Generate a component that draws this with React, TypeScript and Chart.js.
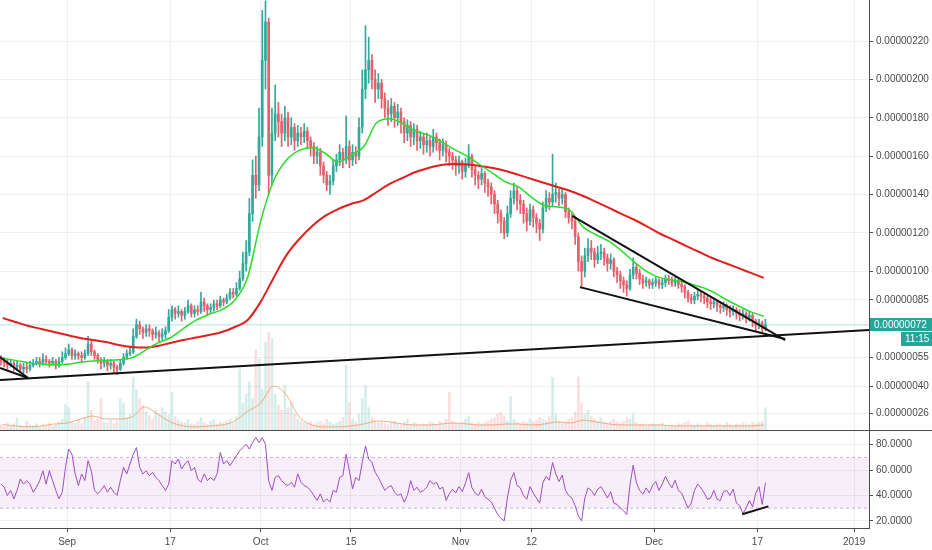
import React, { useEffect, useRef } from 'react';
import { Chart, registerables } from 'chart.js';

Chart.register(...registerables);

const FONT = "'Liberation Sans', Arial, sans-serif";

// x axis: days counted from 2018-09-01
const X_MIN = -10.4;
const X_MAX = 124.3;
const tickDays = [0, 16, 30, 44, 61, 72, 91, 107, 122];
const tickLabels = ['Sep', '17', 'Oct', '15', 'Nov', '12', 'Dec', '17', '2019'];

// 12h candles, prices in satoshi
const candleStartDay = -10.25;
const candleStepDays = 0.5;
const firstOpen = 54;

const closes = [
  53, 52, 51, 52, 50, 51, 49, 50, 49, 51,
  52, 53, 52, 54, 53, 52, 53, 51, 53, 55,
  57, 59, 56, 57, 56, 55, 57, 62, 58, 56,
  54, 52, 53, 51, 52, 50, 49, 52, 55, 57,
  58, 66, 72, 70, 68, 70, 69, 67, 68, 66,
  67, 69, 76, 80, 78, 79, 77, 79, 82, 78,
  80, 79, 84, 82, 80, 81, 83, 82, 85, 84,
  86, 89, 88, 91, 96, 104, 110, 130, 150, 145,
  170, 210, 230, 150, 172, 182, 178, 172, 180, 170,
  175, 168, 172, 170, 173, 168, 165, 160, 162, 155,
  150, 145, 147, 155, 158, 162, 158, 165, 158, 162,
  160, 175, 195, 205, 210, 200, 195, 198, 190, 185,
  182, 186, 180, 183, 178, 172, 176, 170, 174, 168,
  170, 166, 168, 165, 170, 167, 163, 166, 162, 160,
  158, 155, 157, 152, 156, 160, 153, 150, 148, 151,
  146, 144, 140, 135, 130, 126, 120, 130, 138, 142,
  137, 135, 130, 126, 132, 128, 125, 122, 133, 138,
  136, 140, 141, 138, 140, 131, 128, 126, 118, 105,
  100, 108, 112, 110, 106, 109, 110, 107, 104, 106,
  100, 98, 95, 93, 91, 98, 102, 99, 96, 94,
  95, 93, 94, 95, 93, 94, 96, 95, 94, 95,
  93, 92, 89, 86, 85, 87, 88, 87, 86, 84,
  83, 84, 82, 81, 82, 80, 79, 80, 78, 77,
  78, 76, 77, 74, 72, 73, 70, 72,
];

const highs = [
  56, 55, 54, 54, 53, 53, 52, 52, 52, 53,
  54, 55, 55, 57, 56, 54, 55, 54, 55, 58,
  60, 62, 60, 59, 58, 58, 59, 66, 64, 59,
  57, 55, 55, 54, 54, 53, 51, 54, 57, 59,
  61, 70, 75, 74, 71, 72, 72, 70, 71, 69,
  70, 71, 80, 82, 81, 82, 80, 81, 85, 83,
  82, 82, 89, 86, 83, 83, 85, 85, 87, 86,
  88, 91, 91, 94, 100, 110, 116, 138, 158, 160,
  185, 236, 241, 232, 185, 197, 188, 182, 186, 183,
  180, 177, 176, 175, 177, 175, 170, 167, 165, 164,
  157, 152, 150, 158, 161, 166, 164, 181, 168, 166,
  165, 180, 205, 228, 222, 213, 205, 203, 200, 193,
  189, 190, 188, 187, 185, 180, 179, 178, 177, 176,
  173, 172, 172, 170, 174, 172, 169, 169, 168, 164,
  162, 160, 160, 158, 159, 166, 161, 155, 152, 154,
  152, 148, 146, 142, 137, 132, 128, 134, 142, 146,
  144, 140, 137, 133, 135, 134, 130, 127, 136, 142,
  141, 161, 146, 143, 143, 141, 133, 130, 128, 120,
  108, 112, 117, 116, 112, 113, 114, 112, 109, 109,
  107, 102, 100, 97, 95, 101, 107, 104, 101, 98,
  97, 96, 96, 97, 96, 96, 98, 98, 97, 97,
  96, 95, 93, 90, 88, 89, 90, 89, 88, 87,
  86, 86, 85, 84, 84, 83, 82, 82, 81, 80,
  80, 79, 79, 78, 75, 75, 74, 75,
];

const lows = [
  51, 50, 49, 50, 48, 48, 47, 47, 47, 48,
  50, 51, 50, 51, 51, 50, 51, 49, 50, 52,
  54, 56, 54, 54, 54, 53, 54, 56, 56, 54,
  52, 49, 50, 48, 49, 47, 46, 48, 51, 54,
  56, 57, 65, 67, 65, 66, 66, 64, 65, 63,
  64, 65, 68, 74, 75, 76, 74, 75, 78, 76,
  76, 77, 78, 79, 77, 78, 79, 80, 81, 82,
  83, 85, 86, 87, 90, 95, 100, 108, 126, 138,
  142, 165, 195, 140, 145, 168, 170, 165, 168, 165,
  166, 163, 165, 166, 167, 164, 160, 156, 156, 150,
  146, 142, 140, 145, 152, 155, 154, 156, 154, 155,
  156, 158, 172, 190, 198, 195, 188, 190, 185, 180,
  176, 178, 175, 176, 172, 167, 168, 165, 166, 163,
  164, 161, 162, 160, 162, 163, 158, 160, 157, 155,
  153, 150, 151, 148, 149, 154, 149, 145, 143, 145,
  141, 139, 135, 130, 125, 120, 117, 118, 128, 135,
  132, 130, 125, 121, 124, 123, 120, 116, 120, 131,
  132, 134, 136, 134, 135, 128, 125, 122, 114, 100,
  91, 97, 105, 106, 102, 104, 106, 103, 100, 101,
  97, 94, 91, 89, 87, 90, 96, 96, 93, 91,
  92, 91, 91, 92, 91, 91, 92, 93, 92, 92,
  91, 89, 86, 84, 83, 83, 85, 84, 83, 81,
  80, 81, 79, 78, 79, 77, 76, 77, 75, 74,
  75, 73, 74, 71, 69, 70, 68, 69,
];

const volumes = [
  6, 4, 8, 5, 7, 13, 5, 4, 10, 6,
  5, 7, 4, 6, 5, 8, 4, 6, 9, 12,
  28, 25, 10, 8, 12, 7, 14, 54, 22, 10,
  12, 35, 9, 8, 11, 7, 10, 35, 30, 14,
  18, 59, 45, 35, 28, 20, 16, 12, 22, 18,
  25, 20, 17, 42, 15, 11, 9, 8, 12, 7,
  6, 9, 14, 8, 6, 10, 12, 7, 9, 8,
  10, 12, 8, 15, 68, 30, 40, 54, 35, 89,
  79, 45, 98, 109, 102, 40, 28, 22, 50, 25,
  31, 18, 12, 10, 8, 7, 9, 6, 8, 10,
  7, 12, 9, 6, 8, 10, 14, 72, 30, 12,
  9, 18, 35, 50, 25, 14, 10, 8, 9, 7,
  6, 8, 10, 7, 6, 9, 12, 6, 8, 7,
  5, 7, 6, 9, 8, 6, 10, 7, 12, 42,
  10, 8, 7, 9, 12, 15, 8, 6, 9, 7,
  8, 10, 12, 14, 18, 20, 16, 10, 37, 12,
  9, 7, 10, 8, 12, 9, 11, 14, 12, 10,
  15, 59, 18, 10, 8, 9, 12, 14, 20, 59,
  30, 18, 22, 15, 12, 10, 14, 9, 8, 10,
  12, 9, 7, 10, 14, 12, 18, 8, 6, 7,
  5, 6, 7, 5, 6, 8, 5, 4, 6, 5,
  7, 6, 8, 10, 6, 5, 7, 6, 5, 8,
  6, 5, 7, 6, 5, 8, 6, 5, 7, 6,
  8, 7, 6, 9, 7, 8, 10, 25,
];

const rsi = [
  49, 46.5, 40, 44, 37.4, 44, 53, 49, 51.7, 49,
  42.6, 46.5, 51.7, 59.5, 49, 59.5, 51.7, 44, 37.4, 42.6,
  62.2, 76.5, 72.6, 57, 47.8, 57, 51.7, 67.4, 59.5, 44,
  41.3, 44, 47.8, 42.6, 46.5, 42.6, 40, 51.7, 62.2, 57,
  64.8, 72.6, 77.8, 62.2, 57, 59.5, 55.6, 58.2, 54.3, 51.7,
  47.8, 44, 49, 67.4, 64.8, 68.7, 60.9, 64.8, 67.4, 59.5,
  62.2, 53, 50.4, 57, 51.7, 54.3, 51.7, 57, 73.9, 64.8,
  67.4, 63.5, 67.4, 71.3, 75.2, 77.8, 80.4, 76.5, 81.7, 85.6,
  81.7, 85.6, 80.4, 51.7, 44, 54.3, 55.6, 51.7, 49, 47.8,
  50.4, 46.5, 57, 50.4, 47.8, 46.5, 44, 40, 36.1, 41.3,
  34.8, 37.4, 34.8, 44, 42.6, 54.3, 55.6, 72.6, 59.5, 45.2,
  54.3, 51.7, 66.1, 79.1, 68.7, 66.1, 58.2, 54.3, 49, 44,
  46.5, 47.8, 42.6, 40, 41.3, 34.8, 40, 51.7, 44, 46.5,
  42.6, 44, 46.5, 51.7, 49, 50.4, 45.2, 46.5, 36.1, 41.3,
  45, 42, 47, 43, 50, 58, 46, 42, 40, 45,
  39, 37, 35, 30, 25, 22, 20, 38, 52, 58,
  48, 46, 40, 37, 47, 42, 38, 34, 50, 55,
  52, 66, 57, 51, 56, 44, 40, 38, 32, 24,
  20, 38, 46, 44, 40, 45, 47, 43, 38, 43,
  34, 33, 30, 28, 25, 48, 64, 50, 44, 41,
  46, 42, 48, 51, 44, 49, 55, 50, 46, 52,
  44, 42, 36, 30, 34, 44, 49, 46, 42, 37,
  38, 44, 37, 36, 43, 44, 40, 45, 34, 32,
  26, 30, 36, 31, 42, 47, 33, 50,
];

// moving averages read every 2 days
const maDays = [
  -10, -8, -6, -4, -2, 0, 2, 4, 6, 8,
  10, 12, 14, 16, 18, 20, 22, 24, 26, 28,
  30, 32, 34, 36, 38, 40, 42, 44, 46, 48,
  50, 52, 54, 56, 58, 60, 62, 64, 66, 68,
  70, 72, 74, 76, 78, 80, 82, 84, 86, 88,
  90, 92, 94, 96, 98, 100, 102, 104, 106, 108,
];
const greenMA = [
  54.6, 53.5, 52.3, 51.6, 51.2, 51.5, 52.5, 53.2, 53.5, 53.8,
  54.8, 58.5, 62.5, 65.3, 70, 74.5, 77.5, 80, 85, 97,
  126, 147, 158, 163, 164.5, 161.5, 157, 160.5, 165, 177.5,
  179.5, 177, 173, 171, 167.5, 163.5, 160, 155.5, 151, 146.5,
  144, 138.5, 134.3, 133.5, 131.5, 123, 119, 115.5, 110.5, 104.5,
  99.5, 96.5, 95.3, 94, 92, 89.4, 85.5, 82, 78.8, 76.5,
];
const redMA = [
  75.6, 73.5, 71.4, 69.9, 68.3, 66.7, 65.2, 64.1, 63.1, 61.5,
  60.5, 60.2, 61, 62.6, 64.1, 65.4, 66.7, 68.3, 70.9, 74.6,
  84, 96.5, 108.4, 116.8, 123.6, 128.8, 132.4, 135, 137.1, 141.3,
  145.5, 148.6, 151.7, 153.8, 155.4, 155.9, 155.6, 154.9, 153.8, 152.2,
  150.2, 148.1, 146, 143.9, 141.8, 139.2, 136.1, 133, 129.8, 126.7,
  123.1, 119.4, 116.3, 113.1, 110, 106.9, 104.3, 101.7, 99.1, 96.5,
];
const volMA = [
  6, 4.5, 3.5, 4.5, 6.7, 7.8, 12, 15.6, 12.3, 12.3,
  14.5, 25.7, 18, 9, 4.5, 3.5, 4.5, 5.6, 10, 21,
  30, 49, 39, 14.5, 5.6, 3.5, 3.5, 4.5, 6.7, 10,
  9, 6.7, 5.6, 5.6, 6.7, 7.8, 6.7, 5.6, 5.6, 6.7,
  6.7, 5.6, 6.7, 9, 7.8, 11, 9, 6.7, 5.6, 5.6,
  5.6, 5.6, 4.5, 4.5, 4.5, 4.5, 4.5, 4.5, 4.5, 5.6,
];

const priceTicks = [26, 40, 55, 85, 100, 120, 140, 160, 180, 200, 220];
const rsiTicks = [20, 40, 60, 80];
const rsiUpper = 70;
const rsiLower = 30;
const lastTime = '11:15';

// hand-drawn trend lines: [day, value]
const supportLine = [[-10.4, 43.3], [124.3, 69.3]];
const leftWedgeTop = [[-10.4, 55.3], [-6.05, 44.3]];
const leftWedgeBottom = [[-10.4, 49.5], [-6.05, 44.3]];
const wedgeTop = [[78.3, 128.8], [111.3, 64.1]];
const wedgeBottom = [[79.5, 91.7], [111.3, 64.6]];
const rsiTrend = [[104.65, 25.2], [108.7, 31.4]];

const UP = '#33a99b';
const DOWN = '#e4606b';
const UP_VOL = 'rgba(51,169,155,0.2)';
const DOWN_VOL = 'rgba(228,96,107,0.2)';
const GREEN = '#2bdc2b';
const RED = '#e21f1f';
const PURPLE = '#a04cc4';
const GRID = 'rgba(42,46,57,0.07)';
const AXIS = '#4c4c4c';
const TEXT = '#4a4a4a';
const TEAL = '#26a69a';

const candleDays = closes.map((_, i) => candleStartDay + i * candleStepDays);
const opens = closes.map((_, i) => (i === 0 ? firstOpen : closes[i - 1]));
const isUp = (i: number) => closes[i] >= opens[i];
const pts = (arr: number[][]) => arr.map(([x, y]) => ({ x, y }));

function zeroPad(s: any) {
  s.paddingTop = 0;
  s.paddingBottom = 0;
  s.paddingLeft = 0;
  s.paddingRight = 0;
}

function xScale(showLabels: boolean): any {
  return {
    type: 'linear',
    min: X_MIN,
    max: X_MAX,
    offset: false,
    afterBuildTicks: (s: any) => {
      s.ticks = tickDays.map((v) => ({ value: v }));
    },
    afterFit: (s: any) => {
      s.height = showLabels ? 22 : 0;
      zeroPad(s);
    },
    grid: { color: GRID, offset: false, drawTicks: showLabels, tickLength: 4, tickColor: AXIS },
    border: { display: showLabels, color: AXIS },
    ticks: {
      display: showLabels,
      autoSkip: false,
      maxRotation: 0,
      padding: 4,
      color: TEXT,
      font: { size: 10, family: FONT },
      callback: (v: number) => {
        const k = tickDays.indexOf(v);
        return k >= 0 ? tickLabels[k] : '';
      },
    },
  };
}

const lineDs = (label: string, data: any[], color: string, width: number, order: number, extra: any = {}) => ({
  type: 'line',
  label,
  data,
  borderColor: color,
  borderWidth: width,
  pointRadius: 0,
  fill: false,
  order,
  ...extra,
});

const priceLabelPlugin = {
  id: 'priceLabel',
  afterDraw(chart: any) {
    const { ctx, chartArea } = chart;
    const y = chart.scales.y;
    const last = closes[closes.length - 1];
    const py = Math.round(y.getPixelForValue(last));
    const left = chartArea.right + 1;
    const w = chart.width - left;
    ctx.save();
    ctx.fillStyle = TEAL;
    ctx.fillRect(left, py - 7, w, 13);
    ctx.fillRect(left + w - 31, py + 7, 31, 14);
    ctx.fillStyle = '#ffffff';
    ctx.font = `10px ${FONT}`;
    ctx.textBaseline = 'middle';
    ctx.textAlign = 'left';
    ctx.fillText((last / 1e8).toFixed(8), left + 4, py);
    ctx.fillText(lastTime, left + w - 27, py + 14);
    ctx.restore();
  },
};

const dividerPlugin = {
  id: 'divider',
  afterDraw(chart: any) {
    const { ctx } = chart;
    ctx.save();
    ctx.strokeStyle = AXIS;
    ctx.lineWidth = 1;
    ctx.beginPath();
    ctx.moveTo(0, 0.5);
    ctx.lineTo(chart.width, 0.5);
    ctx.stroke();
    ctx.restore();
  },
};

function mainConfig(): any {
  const last = closes[closes.length - 1];
  return {
    type: 'bar',
    data: {
      datasets: [
        lineDs('support', pts(supportLine), '#111', 2, 1),
        lineDs('wedgeA', pts(leftWedgeTop), '#111', 2, 1),
        lineDs('wedgeB', pts(leftWedgeBottom), '#111', 2, 1),
        lineDs('wedgeTop', pts(wedgeTop), '#111', 2, 1),
        lineDs('wedgeBottom', pts(wedgeBottom), '#111', 2, 1),
        lineDs('MA fast', maDays.map((d, i) => ({ x: d, y: greenMA[i] })), GREEN, 1.5, 4, {
          cubicInterpolationMode: 'monotone',
        }),
        lineDs('MA slow', maDays.map((d, i) => ({ x: d, y: redMA[i] })), RED, 2, 5, {
          cubicInterpolationMode: 'monotone',
        }),
        {
          type: 'bar',
          label: 'body',
          data: candleDays.map((d, i) => ({ x: d, y: [opens[i], closes[i]] })),
          backgroundColor: (c: any) => (c.dataIndex !== undefined && !isUp(c.dataIndex) ? DOWN : UP),
          barThickness: 2,
          minBarLength: 1,
          grouped: false,
          order: 10,
        },
        {
          type: 'bar',
          label: 'wick',
          data: candleDays.map((d, i) => ({ x: d, y: [lows[i], highs[i]] })),
          backgroundColor: (c: any) => (c.dataIndex !== undefined && !isUp(c.dataIndex) ? DOWN : UP),
          barThickness: 1,
          grouped: false,
          order: 11,
        },
        lineDs('last', [{ x: X_MIN, y: last }, { x: X_MAX, y: last }], 'rgba(38,166,154,0.35)', 1, 15),
        lineDs('vol MA', maDays.map((d, i) => ({ x: d, y: volMA[i] })), 'rgba(240,150,90,0.75)', 1, 19, {
          yAxisID: 'yv',
          cubicInterpolationMode: 'monotone',
        }),
        {
          type: 'bar',
          label: 'volume',
          data: candleDays.map((d, i) => ({ x: d, y: volumes[i] })),
          yAxisID: 'yv',
          backgroundColor: (c: any) => (c.dataIndex !== undefined && !isUp(c.dataIndex) ? DOWN_VOL : UP_VOL),
          barThickness: 2,
          grouped: false,
          order: 20,
        },
      ],
    },
    options: {
      responsive: false,
      animation: false,
      events: [],
      layout: { padding: 0 },
      plugins: { legend: { display: false }, tooltip: { enabled: false } },
      scales: {
        x: xScale(false),
        y: {
          type: 'linear',
          position: 'right',
          min: 17.2,
          max: 241.4,
          beginAtZero: false,
          afterBuildTicks: (s: any) => {
            s.ticks = priceTicks.map((v) => ({ value: v }));
          },
          afterFit: (s: any) => {
            s.width = 63;
            zeroPad(s);
          },
          grid: { color: GRID, tickLength: 4, tickColor: AXIS },
          border: { display: true, color: AXIS },
          ticks: {
            padding: 3,
            color: TEXT,
            font: { size: 10, family: FONT },
            callback: (v: number) => (v / 1e8).toFixed(8),
          },
        },
        yv: { type: 'linear', display: false, min: 0, max: 480 },
      },
    },
    plugins: [priceLabelPlugin],
  };
}

function rsiConfig(): any {
  return {
    type: 'line',
    data: {
      datasets: [
        lineDs('rsi trend', pts(rsiTrend), '#111', 2, 1),
        lineDs('RSI', candleDays.map((d, i) => ({ x: d, y: rsi[i] })), PURPLE, 1, 2),
        lineDs('upper', [{ x: X_MIN, y: rsiUpper }, { x: X_MAX, y: rsiUpper }], 'rgba(150,130,180,0.55)', 1, 5, {
          borderDash: [3, 3],
        }),
        lineDs('lower', [{ x: X_MIN, y: rsiLower }, { x: X_MAX, y: rsiLower }], 'rgba(150,130,180,0.55)', 1, 6, {
          borderDash: [3, 3],
          fill: '-1',
          backgroundColor: 'rgba(156,39,176,0.08)',
        }),
      ],
    },
    options: {
      responsive: false,
      animation: false,
      events: [],
      layout: { padding: { top: 1, left: 0, right: 0, bottom: 0 } },
      plugins: { legend: { display: false }, tooltip: { enabled: false } },
      scales: {
        x: xScale(true),
        y: {
          type: 'linear',
          position: 'right',
          min: 14.4,
          max: 90.8,
          afterBuildTicks: (s: any) => {
            s.ticks = rsiTicks.map((v) => ({ value: v }));
          },
          afterFit: (s: any) => {
            s.width = 63;
            zeroPad(s);
          },
          grid: { color: GRID, tickLength: 4, tickColor: AXIS },
          border: { display: true, color: AXIS },
          ticks: {
            padding: 3,
            color: TEXT,
            font: { size: 10, family: FONT },
            callback: (v: number) => v.toFixed(4),
          },
        },
      },
    },
    plugins: [dividerPlugin],
  };
}

export default function App() {
  const mainRef = useRef<HTMLCanvasElement>(null);
  const rsiRef = useRef<HTMLCanvasElement>(null);

  useEffect(() => {
    const main = new Chart(mainRef.current as HTMLCanvasElement, mainConfig());
    const r = new Chart(rsiRef.current as HTMLCanvasElement, rsiConfig());
    return () => {
      main.destroy();
      r.destroy();
    };
  }, []);

  return (
    <div
      style={{
        position: 'absolute',
        left: 0,
        top: 0,
        width: 932,
        height: 550,
        background: '#ffffff',
        overflow: 'hidden',
      }}
    >
      <canvas ref={mainRef} width={932} height={430} style={{ position: 'absolute', left: 0, top: 0 }} />
      <canvas ref={rsiRef} width={932} height={120} style={{ position: 'absolute', left: 0, top: 430 }} />
    </div>
  );
}
